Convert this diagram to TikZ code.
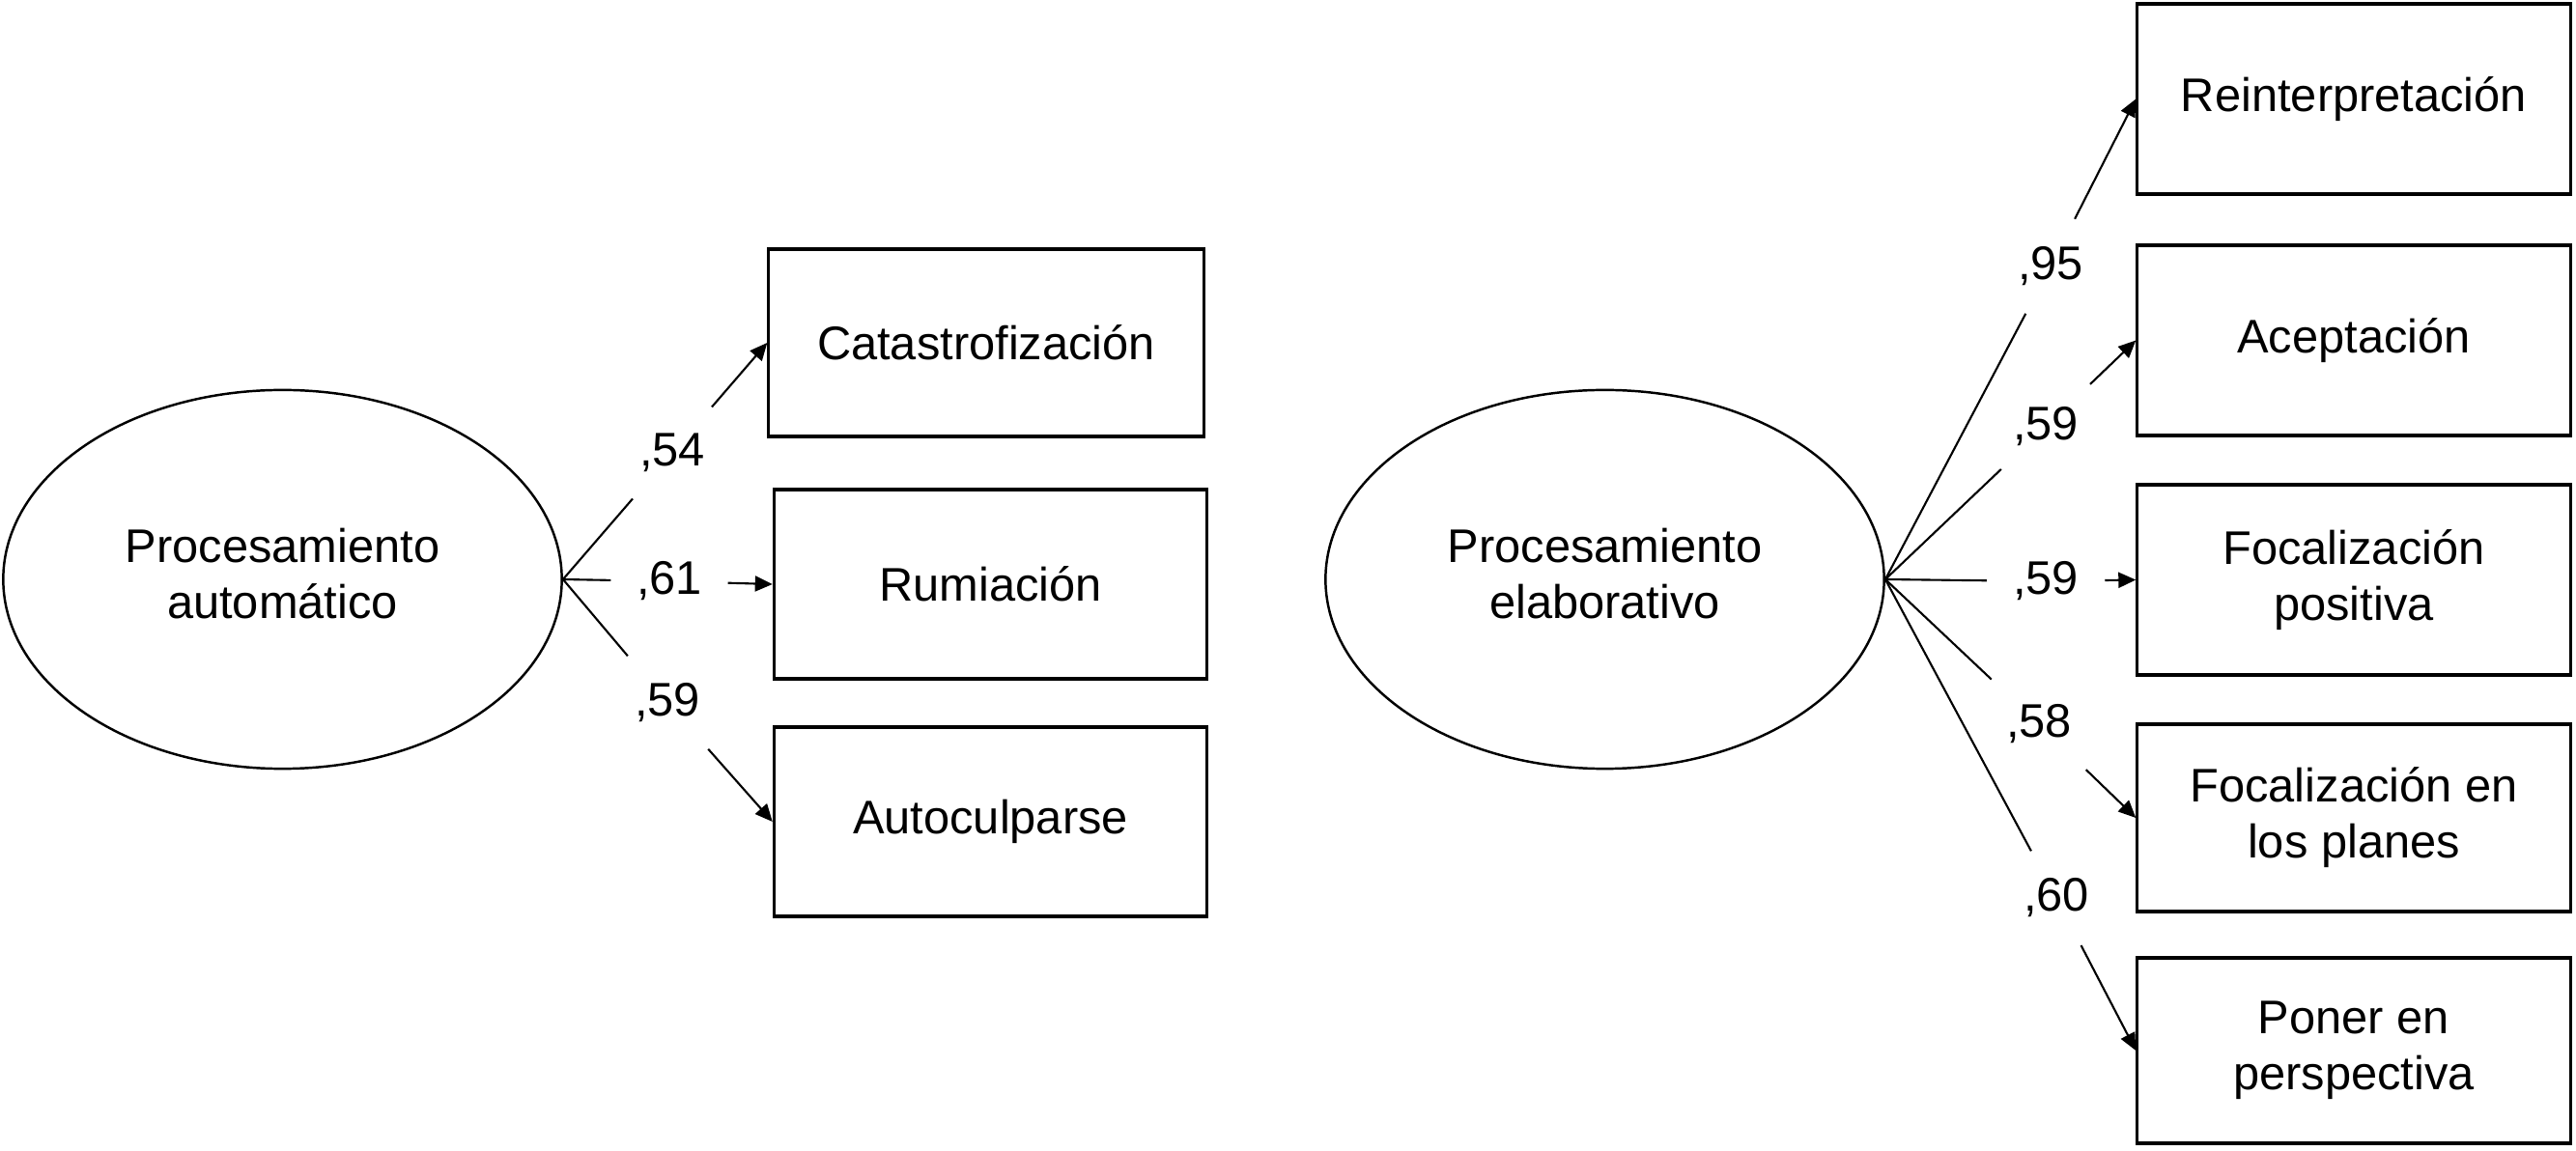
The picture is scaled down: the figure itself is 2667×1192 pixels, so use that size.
\documentclass[tikz,border=0pt]{standalone}
\usepackage{fontspec}
\setmainfont{Liberation Sans}
\usetikzlibrary{shapes.geometric,arrows.meta}
\begin{document}
\begin{tikzpicture}[x=0.01cm,y=-0.01cm,
  txt/.style={font=\fontsize{13.88}{16.5}\selectfont},
  latent/.style={txt,draw,ellipse,line width=0.7pt,inner sep=0pt,align=center,
    text depth=0.12cm,minimum width=5.78cm,minimum height=3.92cm},
  obs/.style={txt,draw,rectangle,line width=0.9pt,inner sep=0pt,align=center,
    minimum width=4.48cm,minimum height=1.96cm},
  coef/.style={txt,circle,inner sep=0pt,minimum size=1.24cm},
  link/.style={line width=0.6pt},
  arr/.style={link,-{Triangle[length=0.18cm,width=0.16cm]}}]
\useasboundingbox (0,0) rectangle (2667,1192);
% latent variables
\node[latent] (pa) at (292.5,600) {Procesamiento\\automático};
\node[latent] (pe) at (1661.5,600) {Procesamiento\\elaborativo};
% left indicators
\node[obs,minimum width=4.5cm,minimum height=1.94cm] (cat) at (1021,355) {Catastrofización};
\node[obs] (rum) at (1025.5,605) {Rumiación};
\node[obs] (aut) at (1025.5,851) {Autoculparse};
% right indicators
\node[obs,minimum height=1.97cm] (rei) at (2437,102.5) {Reinterpretación};
\node[obs,minimum height=1.97cm] (ace) at (2437,352.5) {Aceptación};
\node[obs,minimum height=1.97cm] (fpo) at (2437,600.5) {Focalización\\positiva};
\node[obs,minimum height=1.94cm] (fpl) at (2437,847) {Focalización en\\los planes};
\node[obs,minimum height=1.92cm] (per) at (2437,1088) {Poner en\\perspectiva};
% coefficients
\node[coef] (c54) at (696,469) {,54};
\node[coef,minimum size=1.20cm] (c61) at (693,602) {,61};
\node[coef,minimum size=1.26cm] (c59l) at (691,728) {,59};
\node[coef,minimum size=1.09cm] (c95) at (2123,276) {,95};
\node[coef,minimum size=1.26cm] (c59a) at (2118,442) {,59};
\node[coef,minimum size=1.21cm] (c59b) at (2118,602) {,59};
\node[coef,minimum size=1.34cm] (c58) at (2111,750) {,58};
\node[coef,minimum size=1.09cm] (c60) at (2129,930) {,60};
% paths left
\draw[link] (pa.east) -- (c54);
\draw[arr] (c54) -- (cat.west);
\draw[link] (pa.east) -- (c61);
\draw[arr] (c61) -- (rum.west);
\draw[link] (pa.east) -- (c59l);
\draw[arr] (c59l) -- (aut.west);
% paths right
\draw[link] (pe.east) -- (c95);
\draw[arr] (c95) -- (rei.west);
\draw[link] (pe.east) -- (c59a);
\draw[arr] (c59a) -- (ace.west);
\draw[link] (pe.east) -- (c59b);
\draw[arr] (c59b) -- (fpo.west);
\draw[link] (pe.east) -- (c58);
\draw[arr] (c58) -- (fpl.west);
\draw[link] (pe.east) -- (c60);
\draw[arr] (c60) -- (per.west);
\end{tikzpicture}
\end{document}
